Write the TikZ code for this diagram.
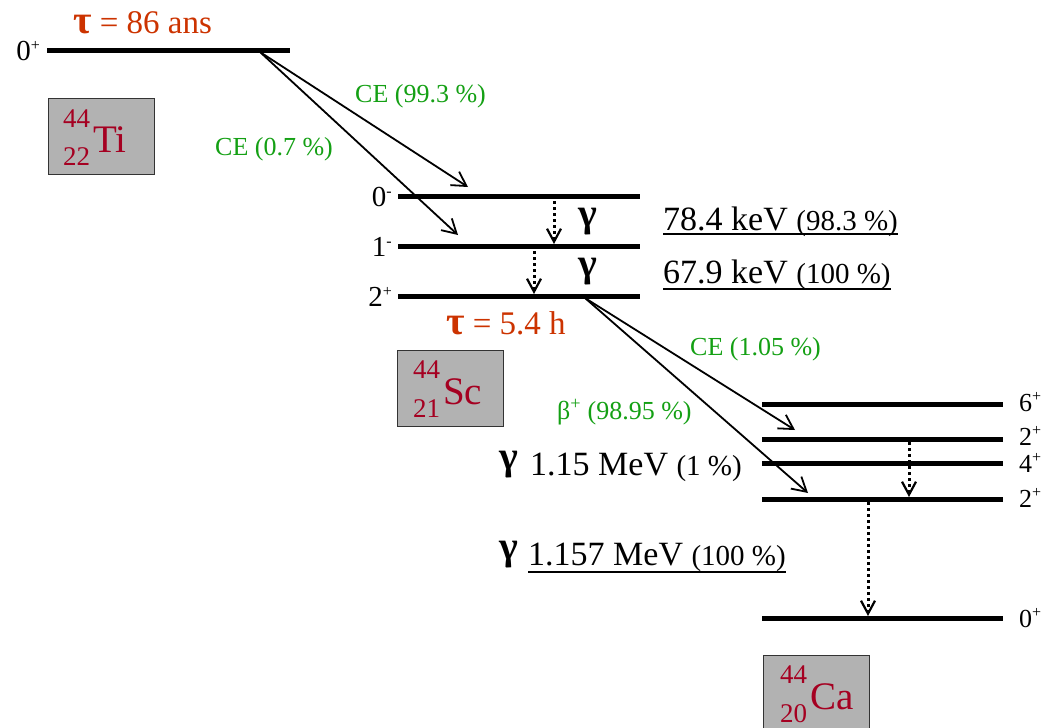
\documentclass[tikz,border=0pt]{standalone}
\usepackage{fontspec}
\setmainfont{Liberation Serif}
\usetikzlibrary{arrows.meta}
\definecolor{taucol}{RGB}{204,51,0}
\definecolor{nuccol}{RGB}{165,0,33}
\definecolor{cegreen}{RGB}{20,160,20}
\definecolor{boxgray}{RGB}{178,178,178}
\newcommand{\fsz}[1]{\fontsize{#1}{#1}\selectfont}
\newcommand{\sps}[1]{\raisebox{9.5pt}{\fsz{16}#1}}
\newcommand{\tausym}{{\fsz{40}\bfseries τ}}
\begin{document}
\begin{tikzpicture}[x=1pt,y=-1pt,
  level/.style={line width=5pt},
  txt/.style={inner sep=0pt, anchor=base west},
  lvlab/.style={inner sep=0pt, font=\fsz{29}},
  calab/.style={inner sep=0pt, anchor=base west, font=\fsz{26}},
  decay/.style={line width=1.8pt, -{Straight Barb[length=14pt,width=16pt,line width=1.8pt]}},
  gam/.style={line width=3pt, dash pattern=on 3pt off 3pt, -{Straight Barb[length=13pt,width=14pt,line width=2.2pt]}},
  nucbox/.style={draw=black!80, line width=1pt, fill=boxgray, minimum width=106pt, minimum height=76pt, anchor=north west, inner sep=0pt},
  nucnum/.style={txt, text=nuccol, font=\fsz{27}},
  nucsym/.style={txt, text=nuccol, font=\fsz{39}},
  cetxt/.style={txt, text=cegreen, font=\fsz{26}},
  tautxt/.style={txt, text=taucol, font=\fsz{33}},
  entxt/.style={txt, font=\fsz{34}},
  gsym/.style={txt, font=\fsz{40}\bfseries},
  uline/.style={line width=1.8pt}
]
\useasboundingbox (0,0) rectangle (1053,728);
\clip (0,0) rectangle (1053,728);

% ---------- Ti ----------
\coordinate (tiL) at (47,50);
\coordinate (tiR) at (290,50);
\draw[level] (tiL) -- (tiR);
\node[lvlab, anchor=base east] (tilab) at (40,60) {0\sps{+}};
\node[tautxt] (tauti) at (73,33) {\tausym{} = 86 ans};
\node[nucbox] (tibox) at (48,98) {};
\node[nucnum] (tiA) at (63,127) {44};
\node[nucnum] (tiZ) at (63,165) {22};
\node[nucsym] (tiS) at (93,152) {Ti};

% ---------- Sc ----------
\coordinate (sc0L) at (398,196); \coordinate (sc0R) at (640,196);
\coordinate (sc1L) at (398,246); \coordinate (sc1R) at (640,246);
\coordinate (sc2L) at (398,296); \coordinate (sc2R) at (640,296);
\draw[level] (sc0L) -- (sc0R);
\draw[level] (sc1L) -- (sc1R);
\draw[level] (sc2L) -- (sc2R);
\node[lvlab, anchor=base east] (sc0lab) at (392,206) {0\sps{-}};
\node[lvlab, anchor=base east] (sc1lab) at (392,256) {1\sps{-}};
\node[lvlab, anchor=base east] (sc2lab) at (392,306) {2\sps{+}};
\node[tautxt] (tausc) at (446,334) {\tausym{} = 5.4 h};
\node[nucbox] (scbox) at (397,350) {};
\node[nucnum] (scA) at (413,378) {44};
\node[nucnum] (scZ) at (413,417) {21};
\node[nucsym] (scS) at (443,404) {Sc};

% Ti -> Sc decays
\coordinate (tiStart) at (260,52);
\coordinate (sc0end) at (468,187);
\coordinate (sc1end) at (458,235);
\draw[decay] (tiStart) -- (sc0end);
\draw[decay] (tiStart) -- (sc1end);
\node[cetxt] (ce993) at (355,102) {CE (99.3 \%)};
\node[cetxt] (ce07) at (215,155) {CE (0.7 \%)};

% Sc gammas
\coordinate (g1a) at (554,201); \coordinate (g1b) at (554,244);
\coordinate (g2a) at (534,251); \coordinate (g2b) at (534,294);
\draw[gam] (g1a) -- (g1b);
\draw[gam] (g2a) -- (g2b);
\node[gsym] (gam1) at (578,226) {γ};
\node[gsym] (gam2) at (578,276) {γ};
\node[entxt] (e784) at (663,230) {78.4 keV {\fsz{29}(98.3 \%)}};
\draw[uline] ([yshift=-4pt]e784.base west) -- ([yshift=-4pt]e784.base east);
\node[entxt] (e679) at (663,283) {67.9 keV {\fsz{29}(100 \%)}};
\draw[uline] ([yshift=-6pt]e679.base west) -- ([yshift=-6pt]e679.base east);

% ---------- Ca ----------
\coordinate (ca6L) at (762,404); \coordinate (ca6R) at (1003,404);
\coordinate (ca2aL) at (762,439); \coordinate (ca2aR) at (1003,439);
\coordinate (ca4L) at (762,463); \coordinate (ca4R) at (1003,463);
\coordinate (ca2bL) at (762,499); \coordinate (ca2bR) at (1003,499);
\coordinate (ca0L) at (762,618); \coordinate (ca0R) at (1003,618);
\draw[level] (ca6L) -- (ca6R);
\draw[level] (ca2aL) -- (ca2aR);
\draw[level] (ca4L) -- (ca4R);
\draw[level] (ca2bL) -- (ca2bR);
\draw[level] (ca0L) -- (ca0R);
\node[calab] (ca6lab) at (1019,411) {6\sps{+}};
\node[calab] (ca2alab) at (1019,445) {2\sps{+}};
\node[calab] (ca4lab) at (1019,472) {4\sps{+}};
\node[calab] (ca2blab) at (1019,507) {2\sps{+}};
\node[calab] (ca0lab) at (1019,627) {0\sps{+}};
\node[nucbox, minimum height=100pt] (cabox) at (763,655) {};
\node[nucnum] (caA) at (780,683) {44};
\node[nucnum] (caZ) at (780,722) {20};
\node[nucsym] (caS) at (810,709) {Ca};

% Sc -> Ca decays
\coordinate (scStart) at (585,298);
\coordinate (ca2aend) at (795,430);
\coordinate (ca2bend) at (808,493);
\draw[decay] (scStart) -- (ca2aend);
\draw[decay] (scStart) -- (ca2bend);
\node[cetxt] (ce105) at (690,355) {CE (1.05 \%)};
\node[cetxt] (beta) at (557,419) {β\textsuperscript{+} (98.95 \%)};

% Ca gammas
\coordinate (g3a) at (909,442); \coordinate (g3b) at (909,497);
\coordinate (g4a) at (868,502); \coordinate (g4b) at (868,616);
\draw[gam] (g3a) -- (g3b);
\draw[gam] (g4a) -- (g4b);
\node[gsym] (gam3) at (499,469) {γ};
\node[entxt] (e115) at (530,475) {1.15 MeV {\fsz{29}(1 \%)}};
\node[gsym] (gam4) at (499,559) {γ};
\node[entxt] (e1157) at (528,565) {1.157 MeV {\fsz{29}(100 \%)}};
\draw[uline] ([yshift=-7pt]e1157.base west) -- ([yshift=-7pt]e1157.base east);
\end{tikzpicture}
\end{document}
